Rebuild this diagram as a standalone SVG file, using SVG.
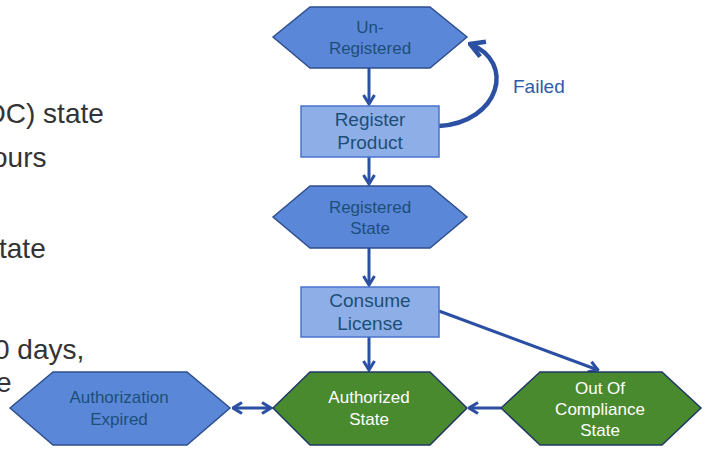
<svg xmlns="http://www.w3.org/2000/svg" width="707" height="449" viewBox="0 0 707 449">
<style>
.hexb{fill:#5b87d8;stroke:#2f4f8f;stroke-width:1.5}
.hexg{fill:#4a8a2e;stroke:#1f3864;stroke-width:1.5}
.box{fill:#8eaee8;stroke:#4a73cc;stroke-width:1.5}
.tb{font-family:"Liberation Sans",Arial,sans-serif;font-size:17px;fill:#1c4f78;text-anchor:middle}
.tr{font-family:"Liberation Sans",Arial,sans-serif;font-size:19px;fill:#1c4f78;text-anchor:middle}
.tg{font-family:"Liberation Sans",Arial,sans-serif;font-size:17px;fill:#ffffff;text-anchor:middle}
.side{font-family:"Liberation Sans",Arial,sans-serif;font-size:28px;fill:#333333}
.con{fill:none;stroke:#2b4fa2;stroke-width:3}
.lbl{font-family:"Liberation Sans",Arial,sans-serif;font-size:19px;fill:#2e5aa8}
</style>
<defs>
<marker id="arr" viewBox="0 0 12 14" markerWidth="12" markerHeight="14" refX="10.5" refY="7" orient="auto-start-reverse" markerUnits="userSpaceOnUse">
<path d="M1.5,1.5 L10.5,7 L1.5,12.5" fill="none" stroke="#2b4fa2" stroke-width="3" stroke-linejoin="miter"/>
</marker>
<marker id="arrBig" viewBox="0 0 18 20" markerWidth="18" markerHeight="20" refX="16" refY="10" orient="auto" markerUnits="userSpaceOnUse">
<path d="M2,2 L16,10 L2,18" fill="none" stroke="#2b4fa2" stroke-width="4.5"/>
</marker>
</defs>
<rect width="707" height="449" fill="#ffffff"/>
<g id="side-text">
<text class="side" x="-16" y="123">OC) state</text>
<text class="side" x="-8" y="167">ours</text>
<text class="side" x="-1" y="258">tate</text>
<text class="side" x="-6" y="359">0 days,</text>
<text class="side" x="-4" y="392">e</text>
</g>
<g id="connectors">
<path class="con" d="M369,68 V104" marker-end="url(#arr)"/>
<path class="con" d="M369,157 V184" marker-end="url(#arr)"/>
<path class="con" d="M369,248 V285" marker-end="url(#arr)"/>
<path class="con" d="M369,337 V370" marker-end="url(#arr)"/>
<path class="con" d="M439,311 L598,370" marker-end="url(#arr)"/>
<path class="con" d="M501,408 H469" marker-end="url(#arr)"/>
<path class="con" d="M233,408 H271" marker-start="url(#arr)" marker-end="url(#arr)"/>
<path class="con" style="stroke-width:4.5" d="M439,126 C500,122 516,62 470,44" marker-end="url(#arrBig)"/>
<text class="lbl" x="513" y="93">Failed</text>
</g>
<g id="unregistered">
<polygon class="hexb" points="273,37 310,7 430,7 467,37 430,68 310,68"/>
<text class="tb" x="370" y="33">Un-</text>
<text class="tb" x="370" y="54">Registered</text>
</g>
<g id="register-product">
<rect class="box" x="301" y="106" width="138" height="51"/>
<text class="tr" x="370" y="126">Register</text>
<text class="tr" x="370" y="149">Product</text>
</g>
<g id="registered-state">
<polygon class="hexb" points="273,217 310,186 430,186 467,217 430,248 310,248"/>
<text class="tb" x="370" y="213">Registered</text>
<text class="tb" x="370" y="234">State</text>
</g>
<g id="consume-license">
<rect class="box" x="301" y="287" width="138" height="50"/>
<text class="tr" x="370" y="307">Consume</text>
<text class="tr" x="370" y="330">License</text>
</g>
<g id="authorized-state">
<polygon class="hexg" points="273,408 310,372 430,372 467,408 430,445 310,445"/>
<text class="tg" x="369" y="403">Authorized</text>
<text class="tg" x="369" y="425">State</text>
</g>
<g id="out-of-compliance">
<polygon class="hexg" points="501,408 540,372 662,372 701,408 662,445 540,445"/>
<text class="tg" x="600" y="394">Out Of</text>
<text class="tg" x="600" y="415">Compliance</text>
<text class="tg" x="600" y="436">State</text>
</g>
<g id="authorization-expired">
<polygon class="hexb" points="10,408 53,372 187,372 230,408 187,445 53,445"/>
<text class="tb" x="119" y="403">Authorization</text>
<text class="tb" x="119" y="425">Expired</text>
</g>
</svg>
